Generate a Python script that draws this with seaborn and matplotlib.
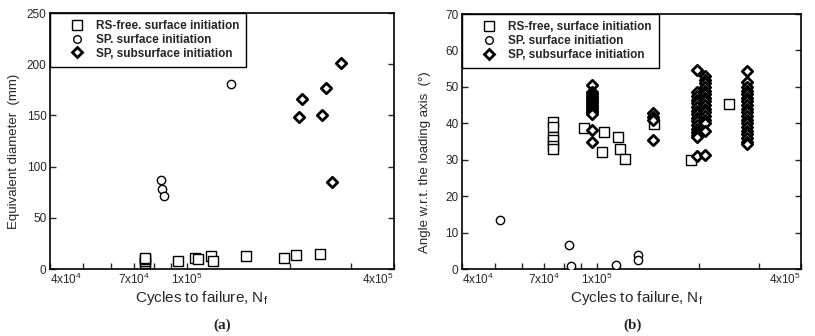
import numpy as np
import pandas as pd
import matplotlib
matplotlib.use("Agg")
import matplotlib.pyplot as plt
from matplotlib.lines import Line2D
from matplotlib.ticker import FixedLocator, NullFormatter
import seaborn as sns

# ---------------- data ----------------
series_labels = ["RS-free. surface initiation", "SP. surface initiation", "SP, subsurface initiation"]
series_labels_b = ["RS-free, surface initiation", "SP. surface initiation", "SP, subsurface initiation"]

# Panel (a): equivalent diameter (mm)
a_rs_n = [75.8e3, 75.8e3, 75.8e3, 75.8e3, 94.0e3, 105.5e3, 107.4e3, 117.4e3, 119.3e3, 149e3, 191e3, 208e3, 244e3]
a_rs_d = [6, 8, 10, 11, 7.5, 10.7, 9.8, 13, 7.5, 12.4, 10.7, 13.3, 14.6]
a_sps_n = [84.3e3, 84.8e3, 85.6e3, 134e3]
a_sps_d = [87.2, 78, 71.6, 180.7]
a_spsub_n = [212e3, 216e3, 247e3, 254e3, 265e3, 280e3]
a_spsub_d = [148.4, 165.7, 150.7, 176.4, 85, 201.2]

# Panel (b): angle w.r.t. loading axis (deg)
b_rs_n = [74.4e3, 74.4e3, 74.4e3, 74.4e3, 74.4e3, 74.4e3, 91.4e3, 103.5e3, 105e3, 115.7e3, 117e3, 121e3, 147e3, 189.5e3, 244.7e3]
b_rs_a = [40.3, 38.9, 36.3, 35.3, 33.9, 33.0, 38.7, 32.0, 37.6, 36.2, 32.9, 30.3, 39.9, 29.9, 45.3]
b_sps_n = [51.6e3, 82.6e3, 83.9e3, 113.9e3, 132e3, 132e3]
b_sps_a = [13.5, 6.5, 0.7, 1.0, 3.8, 2.6]
b_sub_col_n = [96.7e3, 146.7e3, 196.9e3, 208.5e3, 277.8e3]
b_sub_col_a = [
    [50.5, 48.5, 48.0, 47.5, 47.0, 46.5, 46.0, 45.5, 45.0, 44.5, 44.0, 43.5, 43.0, 42.5, 38.2, 34.8],
    [42.8, 41.8, 41.0, 35.4],
    [54.7, 48.7, 47.5, 46.5, 45.5, 44.5, 43.5, 42.5, 41.5, 40.5, 39.5, 38.5, 37.5, 36.8, 36.3, 31.0],
    [53.0, 52.0, 51.0, 50.0, 49.0, 48.0, 47.0, 46.0, 45.0, 44.0, 43.0, 42.0, 41.0, 40.0, 38.0, 31.3],
    [54.3, 51.2, 50.0, 49.0, 48.0, 47.0, 46.0, 45.0, 44.0, 43.0, 42.0, 41.0, 40.0, 39.0, 38.0, 37.0, 36.0, 35.0, 34.2],
]

xtick_vals = [4e4, 7e4, 1e5, 4e5]
xtick_labels = [r"4x10$^4$", r"7x10$^4$", r"1x10$^5$", r"4x10$^5$"]
xminor_vals = [5e4, 6e4, 8e4, 9e4, 2e5, 3e5]

# ---------------- style ----------------
sns.set_style("ticks")
plt.rcParams["font.family"] = ["Liberation Sans", "DejaVu Sans"]
plt.rcParams["mathtext.fontset"] = "custom"
plt.rcParams["mathtext.rm"] = "Liberation Sans"
plt.rcParams["mathtext.it"] = "Liberation Sans"

fig = plt.figure(figsize=(8.15, 3.36), dpi=100)
ax_a = fig.add_axes([0.0613, 0.1994, 0.4221, 0.7619])
ax_b = fig.add_axes([0.5669, 0.1994, 0.4159, 0.7589])

sq_kw = dict(marker="s", s=55, facecolor="white", edgecolor="black", linewidth=1.0)
ci_kw = dict(marker="o", s=36, facecolor="white", edgecolor="black", linewidth=1.0)
di_kw = dict(marker="D", s=28, facecolor="white", edgecolor="black", linewidth=2.0)


def draw(ax, n, v, kw):
    df = pd.DataFrame({"N": n, "v": v})
    sns.scatterplot(data=df, x="N", y="v", ax=ax, legend=False, zorder=3, **kw)


# panel a
draw(ax_a, a_rs_n, a_rs_d, sq_kw)
draw(ax_a, a_sps_n, a_sps_d, ci_kw)
draw(ax_a, a_spsub_n, a_spsub_d, di_kw)

# panel b
sub_n, sub_a = [], []
for n, col in zip(b_sub_col_n, b_sub_col_a):
    sub_n += [n] * len(col)
    sub_a += col
draw(ax_b, b_rs_n, b_rs_a, sq_kw)
draw(ax_b, b_sps_n, b_sps_a, ci_kw)
draw(ax_b, sub_n, sub_a, di_kw)


def style_axes(ax, ymax, ystep, ylabel, labels, xlab_x, ylab_x, ylab_y):
    ax.set_xscale("log")
    ax.set_xlim(4e4, 4e5)
    ax.set_ylim(0, ymax)
    ax.xaxis.set_major_locator(FixedLocator(xtick_vals))
    ax.set_xticklabels(xtick_labels)
    tl = ax.get_xticklabels()
    tl[0].set_horizontalalignment("left")
    tl[-1].set_horizontalalignment("right")
    ax.xaxis.set_minor_locator(FixedLocator(xminor_vals))
    ax.xaxis.set_minor_formatter(NullFormatter())
    ax.set_yticks(np.arange(0, ymax + 1, ystep))
    ax.tick_params(axis="both", which="major", direction="in", length=4, width=1,
                   labelsize=8.5, right=True, top=False, pad=2.5)
    ax.tick_params(axis="x", which="major", pad=2)
    ax.tick_params(axis="x", which="minor", direction="in", length=4, width=1, top=False)
    for sp in ax.spines.values():
        sp.set_visible(True)
        sp.set_linewidth(1.2)
        sp.set_color("black")
    ax.set_xlabel(r"Cycles to failure, N$_{\mathregular{f}}$", fontsize=11)
    ax.xaxis.set_label_coords(xlab_x, -0.078)
    ax.set_ylabel(ylabel, fontsize=9.5)
    ax.yaxis.set_label_coords(ylab_x, ylab_y)
    handles = [
        Line2D([], [], linestyle="none", marker="s", markersize=7, markerfacecolor="white",
               markeredgecolor="black", markeredgewidth=1.0),
        Line2D([], [], linestyle="none", marker="o", markersize=5.5, markerfacecolor="white",
               markeredgecolor="black", markeredgewidth=1.0),
        Line2D([], [], linestyle="none", marker="D", markersize=5, markerfacecolor="white",
               markeredgecolor="black", markeredgewidth=2.0),
    ]
    leg = ax.legend(handles, labels, loc="upper left", borderaxespad=0, fontsize=8.5,
                    frameon=True, fancybox=False, handlelength=3.4, handletextpad=-0.1,
                    labelspacing=0.15, borderpad=0.6, edgecolor="black", framealpha=1)
    leg.get_frame().set_linewidth(1.0)
    txts = leg.get_texts()
    txts[2].set_fontweight("bold")
    for t in txts[:2]:
        t.set_fontweight("semibold")


style_axes(ax_a, 250, 50, "Equivalent diameter  (mm)", series_labels, 0.44, -0.087, 0.46)
style_axes(ax_b, 70, 10, "Angle w.r.t. the loading axis  (°)", series_labels_b, 0.516, -0.091, 0.42)

fig.text(222 / 815, 1 - 325 / 336, "(a)", ha="center", va="center", fontsize=11,
         fontweight="bold", family=["Liberation Serif", "DejaVu Serif"])
fig.text(633 / 815, 1 - 325 / 336, "(b)", ha="center", va="center", fontsize=11,
         fontweight="bold", family=["Liberation Serif", "DejaVu Serif"])

fig.savefig("out.png", dpi=100)
